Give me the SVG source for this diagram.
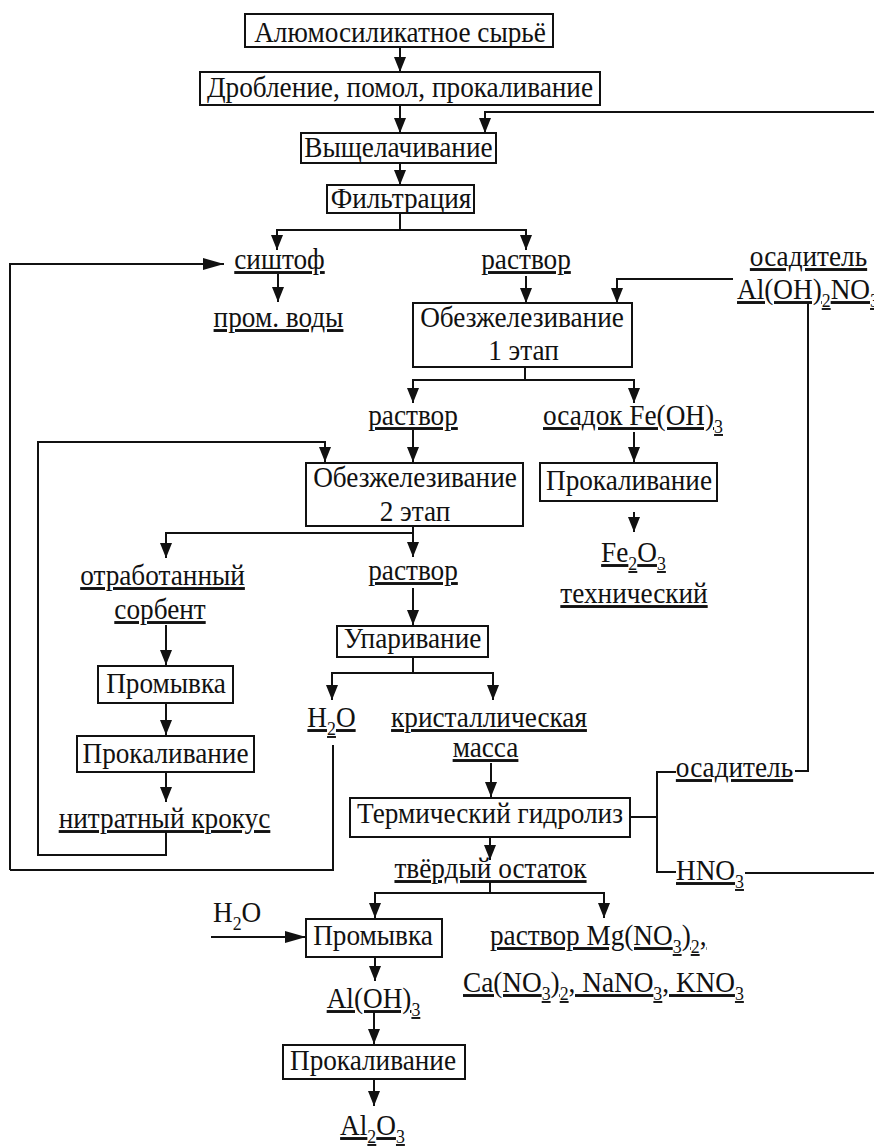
<svg xmlns="http://www.w3.org/2000/svg" width="874" height="1148" viewBox="0 0 874 1148">
<style>
.u{text-decoration:underline}
.box{fill:#fff;stroke:#111;stroke-width:2}
.c path{fill:none;stroke:#111;stroke-width:2}
.s{font-size:19px}
</style>
<defs>
<marker id="a" markerUnits="userSpaceOnUse" markerWidth="15" markerHeight="12" viewBox="0 0 15 12" refX="15" refY="6" orient="auto"><path d="M0,0 L15,6 L0,12 z" fill="#111"/></marker>
<marker id="b" markerUnits="userSpaceOnUse" markerWidth="21" markerHeight="12" viewBox="0 0 21 12" refX="21" refY="6" orient="auto"><path d="M0,0 L21,6 L0,12 z" fill="#111"/></marker>
</defs>
<rect width="874" height="1148" fill="#fff"/>
<g class="c" id="connectors">
<path d="M400,47 V72" marker-end="url(#a)"/>
<path d="M400,105 V133" marker-end="url(#a)"/>
<path d="M874,112 H485 V133" marker-end="url(#a)"/>
<path d="M400,163 V185" marker-end="url(#a)"/>
<path d="M400,213 V230"/>
<path d="M400,230 H277 V250" marker-end="url(#a)"/>
<path d="M400,230 H526 V250" marker-end="url(#a)"/>
<path d="M10,870 V264 H224" marker-end="url(#b)"/>
<path d="M278,274 V302" marker-end="url(#a)"/>
<path d="M526,276 V303" marker-end="url(#a)"/>
<path d="M733,279 H617 V303" marker-end="url(#a)"/>
<path d="M808,303 V771 H795"/>
<path d="M525,367 V380"/>
<path d="M525,380 H413 V403" marker-end="url(#a)"/>
<path d="M525,380 H634 V403" marker-end="url(#a)"/>
<path d="M413,430 V462" marker-end="url(#a)"/>
<path d="M634,432 V462" marker-end="url(#a)"/>
<path d="M634,512 V532" marker-end="url(#a)"/>
<path d="M166,832 V855 H38 V442 H325 V462" marker-end="url(#a)"/>
<path d="M413,526 V533"/>
<path d="M413,533 H166 V558" marker-end="url(#a)"/>
<path d="M413,533 V557" marker-end="url(#a)"/>
<path d="M166,625 V665" marker-end="url(#a)"/>
<path d="M166,703 V735" marker-end="url(#a)"/>
<path d="M166,772 V802" marker-end="url(#a)"/>
<path d="M413,588 V625" marker-end="url(#a)"/>
<path d="M413,657 V673"/>
<path d="M413,673 H332 V700" marker-end="url(#a)"/>
<path d="M413,673 H493 V700" marker-end="url(#a)"/>
<path d="M333,745 V870 H10"/>
<path d="M491,763 V797" marker-end="url(#a)"/>
<path d="M630,817 H657"/>
<path d="M676,772 H657 V872 H676"/>
<path d="M745,873 H874"/>
<path d="M490,837 V860" marker-end="url(#a)"/>
<path d="M490,882 V893"/>
<path d="M490,893 H375 V918" marker-end="url(#a)"/>
<path d="M490,893 H604 V918" marker-end="url(#a)"/>
<path d="M211,937 H306" marker-end="url(#b)"/>
<path d="M375,957 V981" marker-end="url(#a)"/>
<path d="M374,1012 V1044" marker-end="url(#a)"/>
<path d="M374,1079 V1106" marker-end="url(#a)"/>
</g>
<g id="nodes" font-family="Liberation Serif" font-size="29" fill="#111" text-anchor="middle">
<g id="n1"><rect class="box" x="245" y="14" width="308" height="33"/><text transform="translate(400,42) scale(0.94,1)">Алюмосиликатное сырьё</text></g>
<g id="n2"><rect class="box" x="200" y="72" width="400" height="33"/><text transform="translate(400,97) scale(0.94,1)">Дробление, помол, прокаливание</text></g>
<g id="n3"><rect class="box" x="301" y="133" width="195" height="30"/><text transform="translate(398.5,157) scale(0.94,1)">Выщелачивание</text></g>
<g id="n4"><rect class="box" x="327" y="185" width="147" height="28"/><text transform="translate(401,208) scale(0.94,1)">Фильтрация</text></g>
<g id="n5"><text class="u" transform="translate(279.5,269) scale(0.94,1)">сиштоф</text></g>
<g id="n6"><text class="u" transform="translate(526,269) scale(0.94,1)">раствор</text></g>
<g id="n7"><text class="u" transform="translate(278.5,327) scale(0.94,1)">пром. воды</text></g>
<g id="n8"><text class="u" transform="translate(808.5,266) scale(0.94,1)">осадитель</text><text class="u" text-anchor="start" transform="translate(737,299) scale(0.94,1)">Al(OH)<tspan class="s" dy="8">2</tspan><tspan dy="-8">NO</tspan><tspan class="s" dy="8">3</tspan></text></g>
<g id="n9"><rect class="box" x="413" y="303" width="219" height="64"/><text transform="translate(522,327) scale(0.94,1)">Обезжелезивание</text><text transform="translate(523.5,360) scale(0.94,1)">1 этап</text></g>
<g id="n10"><text class="u" transform="translate(413,425) scale(0.94,1)">раствор</text></g>
<g id="n11"><text class="u" transform="translate(633,425) scale(0.94,1)">осадок Fe(OH)<tspan class="s" dy="8">3</tspan></text></g>
<g id="n12"><rect class="box" x="306" y="463" width="217" height="63"/><text transform="translate(415,487) scale(0.94,1)">Обезжелезивание</text><text transform="translate(415,521) scale(0.94,1)">2 этап</text></g>
<g id="n13"><rect class="box" x="540" y="463" width="177" height="38"/><text transform="translate(629,490) scale(0.94,1)">Прокаливание</text></g>
<g id="n14"><text class="u" transform="translate(633.5,562) scale(0.94,1)">Fe<tspan class="s" dy="8">2</tspan><tspan dy="-8">O</tspan><tspan class="s" dy="8">3</tspan></text><text class="u" transform="translate(634,603) scale(0.94,1)">технический</text></g>
<g id="n15"><text class="u" transform="translate(162.5,585) scale(0.94,1)">отработанный</text><text class="u" transform="translate(160,619) scale(0.94,1)">сорбент</text></g>
<g id="n16"><text class="u" transform="translate(413,580) scale(0.94,1)">раствор</text></g>
<g id="n17"><rect class="box" x="98" y="666" width="135" height="37"/><text transform="translate(166,693) scale(0.94,1)">Промывка</text></g>
<g id="n18"><rect class="box" x="337" y="626" width="151" height="31"/><text transform="translate(412.5,648) scale(0.94,1)">Упаривание</text></g>
<g id="n19"><rect class="box" x="77" y="736" width="177" height="36"/><text transform="translate(165.5,763) scale(0.94,1)">Прокаливание</text></g>
<g id="n20"><text class="u" transform="translate(164.5,828) scale(0.94,1)">нитратный крокус</text></g>
<g id="n21"><text class="u" transform="translate(331.5,727) scale(0.94,1)">H<tspan class="s" dy="8">2</tspan><tspan dy="-8">O</tspan></text></g>
<g id="n22"><text class="u" transform="translate(489,727) scale(0.94,1)">кристаллическая</text><text class="u" transform="translate(485.5,757) scale(0.94,1)">масса</text></g>
<g id="n23"><rect class="box" x="350" y="798" width="280" height="39"/><text transform="translate(490,823) scale(0.94,1)">Термический гидролиз</text></g>
<g id="n24"><text class="u" transform="translate(734.5,777) scale(0.94,1)">осадитель</text></g>
<g id="n25"><text class="u" text-anchor="start" transform="translate(676,880) scale(0.94,1)">HNO<tspan class="s" dy="8">3</tspan></text></g>
<g id="n26"><text class="u" transform="translate(490.5,878) scale(0.94,1)">твёрдый остаток</text></g>
<g id="n27"><text text-anchor="start" transform="translate(213,922) scale(0.94,1)">H<tspan class="s" dy="8">2</tspan><tspan dy="-8">O</tspan></text></g>
<g id="n28"><rect class="box" x="306" y="919" width="136" height="38"/><text transform="translate(373,945) scale(0.94,1)">Промывка</text></g>
<g id="n29"><text class="u" transform="translate(373.5,1008) scale(0.94,1)">Al(OH)<tspan class="s" dy="8">3</tspan></text></g>
<g id="n30"><rect class="box" x="283" y="1045" width="182" height="34"/><text transform="translate(373,1070) scale(0.94,1)">Прокаливание</text></g>
<g id="n31"><text class="u" transform="translate(372.5,1135) scale(0.94,1)">Al<tspan class="s" dy="8">2</tspan><tspan dy="-8">O</tspan><tspan class="s" dy="8">3</tspan></text></g>
<g id="n32"><text class="u" text-anchor="start" transform="translate(490,945) scale(0.94,1)">раствор Mg(NO<tspan class="s" dy="8">3</tspan><tspan dy="-8">)</tspan><tspan class="s" dy="8">2</tspan><tspan dy="-8">,</tspan></text><text class="u" text-anchor="start" transform="translate(463,992) scale(0.94,1)">Ca(NO<tspan class="s" dy="8">3</tspan><tspan dy="-8">)</tspan><tspan class="s" dy="8">2</tspan><tspan dy="-8">, NaNO</tspan><tspan class="s" dy="8">3</tspan><tspan dy="-8">, KNO</tspan><tspan class="s" dy="8">3</tspan></text></g>
</g>
</svg>
